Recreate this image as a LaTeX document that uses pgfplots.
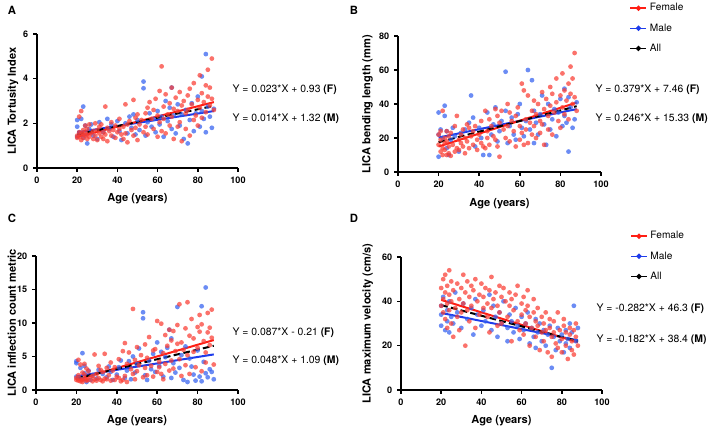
\documentclass[border=0pt]{standalone}
\usepackage{pgfplots}
\pgfplotsset{compat=1.18}
\usepackage{pgfplotstable}
\usepackage{fontspec}
\setmainfont{TeX Gyre Heros}

\definecolor{fred}{RGB}{250,60,50}
\definecolor{mblue}{RGB}{50,95,240}
\definecolor{lred}{RGB}{255,30,20}
\definecolor{lblue}{RGB}{30,60,235}

% age, tortuosity, bending length, inflection count, max velocity
\pgfplotstableread{
age tort bend infl vel
20 1.45 16 1.5 46
20 1.35 22 1.8 38
21 1.60 12 2.2 50
21 1.40 19 1.4 41
21 2.30 24 4.5 35
22 1.55 14 1.6 44
22 2.55 36 3.8 52
22 1.25 10 1.3 32
23 1.70 20 2.6 47
23 1.50 17 1.5 39
23 1.35 13 1.2 28
24 1.90 24 3.9 54
24 1.45 10 1.7 43
24 1.60 18 2.3 36
25 1.30 11 1.4 49
25 1.75 21 3.2 30
25 1.50 15 1.6 40
26 1.40 9.5 1.5 45
26 1.95 23 2.8 24
27 1.55 16 1.9 37
28 1.65 27 2.1 48
28 1.30 12 1.3 33
29 2.00 33 5.3 41
29 1.45 14 1.6 27
30 1.70 19 2.4 46
30 1.25 13 1.4 35
31 1.85 22 3.6 52
31 1.55 17 1.8 39
32 1.40 25 1.5 44
32 1.95 15 3.0 20
33 1.60 20 2.7 49
33 1.30 11 1.3 36
34 2.75 28 5.4 42
34 1.50 18 1.7 31
35 1.80 26 3.3 47
35 1.20 14 1.6 38
36 1.65 21 2.2 45
37 1.45 16 1.4 28
37 2.05 24 4.1 50
38 1.70 27 2.9 40
39 1.35 13 1.5 34
39 1.90 19 3.4 43
40 1.60 22 2.0 48
41 1.75 30 1.8 37
41 2.20 17 4.6 42
42 1.50 15 1.3 46
43 1.85 36 5.8 33
43 1.30 14 1.5 39
44 2.85 24 7.0 45
44 1.55 20 2.1 26
45 1.95 31 3.9 51
45 1.15 16 1.2 37
46 2.10 27 5.6 41
47 1.70 21 3.1 44
48 3.05 37 12.1 29
48 1.45 19 2.4 38
49 2.25 33 4.5 47
49 1.80 15 1.6 35
50 1.25 9 2.8 42
50 2.40 29 6.4 30
51 1.95 36 3.7 46
52 2.15 25 5.2 40
53 1.60 20 1.9 33
54 2.45 40 6.8 44
54 1.85 27 3.3 38
55 2.70 35 4.8 22
55 1.50 18 2.2 41
56 2.95 30 7.9 36
57 2.20 24 3.6 43
58 1.75 15 2.0 31
58 2.60 33 5.9 47
59 3.10 38 6.1 27
60 2.35 27 10.3 39
60 1.40 19 2.7 34
61 3.45 52 4.2 42
61 2.05 23 3.4 25
62 4.55 48 9.9 36
62 1.65 16 2.4 30
63 2.75 31 5.5 38
63 2.20 25 1.6 45
64 3.30 45 8.2 33
64 1.55 17 3.9 20
65 2.40 29 6.6 28
66 2.90 36 9.0 35
66 1.90 22 2.9 41
67 3.60 42 7.4 31
67 2.30 27 4.4 24
68 2.65 34 8.8 37
68 1.30 20 3.2 29
69 3.15 40 5.8 18
70 2.55 30 9.7 33
70 1.85 23 6.9 26
71 3.40 47 12.8 30
71 2.05 28 4.6 22
72 2.80 37 7.1 35
72 1.20 16 2.1 27
73 3.00 43 6.0 17
74 2.45 25 9.2 32
74 1.75 33 3.7 28
75 3.25 50 13.1 15
75 2.60 39 5.2 24
76 1.45 22 2.4 31
76 3.55 46 8.1 26
77 2.85 35 10.6 21
78 2.15 41 5.7 35
78 3.80 55 7.7 19
79 2.35 30 3.4 27
80 3.05 45 9.4 23
80 1.90 26 6.3 17
81 2.70 38 8.7 29
81 4.15 58 11.2 32
82 3.35 48 9.8 20
82 2.25 34 2.8 26
83 2.95 42 7.3 14
84 3.70 52 5.6 25
84 2.50 31 4.1 28
85 3.20 46 8.6 18
85 4.40 62 11.5 22
86 2.80 40 6.7 27
86 3.60 55 9.3 16
87 4.90 70 12.0 24
87 3.10 44 7.8 30
88 2.60 36 3.8 20
}\female

\pgfplotstableread{
age tort bend infl vel
20 2.15 35 4.3 34
20 1.85 9 4.0 29
20 1.40 22 2.0 38
21 1.60 25 1.8 42
22 2.20 20 3.3 27
23 2.75 39 5.5 36
23 1.35 33 1.6 31
24 1.90 14 3.6 26
24 1.50 24 2.5 40
25 1.10 10 1.2 33
26 1.75 19 2.9 30
27 1.95 26 1.5 44
28 1.45 21 2.2 35
30 1.30 12 1.7 28
31 2.05 23 3.0 39
33 1.60 25 2.4 32
35 2.20 29 1.9 37
36 1.75 45 3.5 25
37 1.95 32 2.7 41
38 1.40 15 1.5 34
40 2.10 26 2.3 29
41 1.65 20 3.4 36
42 1.25 10 4.4 31
44 2.00 35 1.8 43
45 1.55 10 2.9 27
46 2.30 22 4.3 38
47 1.80 28 1.6 33
48 2.40 38 5.0 24
49 1.50 18 2.6 35
50 2.15 24 3.9 30
51 1.70 30 6.2 40
53 3.87 59 11.6 22
53 3.57 36 10.7 28
54 1.45 17 2.2 34
55 2.05 27 1.5 31
56 2.45 32 4.4 26
57 1.85 22 3.1 37
58 2.20 19 5.4 29
59 1.60 34 2.7 23
60 2.55 40 7.1 33
61 1.95 26 3.6 27
62 2.30 21 5.7 30
63 1.40 30 2.0 35
64 3.00 60 4.9 21
65 2.10 25 6.3 28
66 2.70 54 9.0 24
67 3.60 36 7.7 32
67 1.75 17 1.8 19
68 2.35 29 4.0 26
69 1.55 22 2.6 30
70 2.85 34 12.4 22
71 1.90 45 3.3 27
72 2.40 28 5.2 20
73 1.30 16 1.5 25
74 2.60 40 6.5 29
75 1.10 25 1.2 10
76 2.15 31 4.7 24
77 2.90 37 3.5 18
78 1.65 21 2.3 28
79 2.45 35 1.4 22
80 3.20 43 5.9 25
81 1.85 27 2.0 17
82 4.10 49 12.5 21
82 2.55 33 1.3 27
83 2.20 29 4.2 23
84 5.10 44 15.3 30
84 1.60 12 2.5 19
85 2.75 38 1.9 26
86 2.30 26 3.1 38
87 1.80 31 2.7 22
88 2.65 41 1.6 28
}\male

\tikzset{eq/.style={anchor=west, font=\fontsize{7.8}{9}\selectfont}}

\pgfplotsset{
 prism/.style={
  scale only axis, xmin=0, xmax=100, ymin=0,
  xtick={0,20,...,100},
  axis lines=left, axis line style={-, line width=1.1pt},
  tick align=outside, major tick length=3pt,
  tick style={line width=1.1pt, black},
  /pgf/number format/assume math mode=true,
  tick label style={font=\bfseries\fontsize{6.8}{8}\selectfont},
  label style={font=\bfseries\fontsize{8.3}{9}\selectfont},
  xlabel={Age (years)},
  xlabel style={at={(rel axis cs:0.5,-0.23)}, anchor=center},
  clip=false,
  anchor=south west,
 },
 fem/.style={only marks, mark=*, mark size=1.8pt, color=fred, mark options={solid, fill=fred, draw=fred, fill opacity=0.72, draw opacity=0}, forget plot},
 mal/.style={only marks, mark=*, mark size=1.8pt, color=mblue, mark options={solid, fill=mblue, draw=mblue, fill opacity=0.72, draw opacity=0}, forget plot},
 rl/.style={lred, line width=1.5pt, forget plot},
 bl/.style={lblue, line width=1.5pt, forget plot},
 al/.style={black, line width=1.5pt, dash pattern=on 5pt off 2.5pt, forget plot},
 leg/.style={
  legend style={draw=none, fill=none, font=\fontsize{7.6}{9}\selectfont, anchor=north west, row sep=4pt, inner sep=0pt},
  legend cell align=left,
  legend image code/.code={\draw[##1] (0pt,0pt) -- (12pt,0pt); \fill[##1, solid] (6pt,0pt) circle (1.3pt);},
 },
}

\begin{document}
\begin{tikzpicture}
\useasboundingbox (0,0) rectangle (531pt,321pt);

\node[font=\bfseries\fontsize{8.5}{9}\selectfont] at (9pt,313.5pt) {A};
\node[font=\bfseries\fontsize{8.5}{9}\selectfont] at (265.5pt,313.5pt) {B};
\node[font=\bfseries\fontsize{8.5}{9}\selectfont] at (9pt,157.5pt) {C};
\node[font=\bfseries\fontsize{8.5}{9}\selectfont] at (265.5pt,157.5pt) {D};

% Panel A
\begin{axis}[prism, at={(27.75pt,195pt)}, width=150.75pt, height=100.5pt,
  ymax=6, ytick={0,2,4,6}, ylabel={LICA Tortusity Index},
  ylabel style={at={(rel axis cs:-0.12,0.5)}, anchor=center}]
\addplot[mal] table[x=age,y=tort]{\male};
\addplot[fem] table[x=age,y=tort]{\female};
\addplot[bl] coordinates {(20,1.60) (88,2.55)};
\addplot[rl] coordinates {(20,1.39) (88,2.95)};
\addplot[al] coordinates {(20,1.50) (88,2.78)};
\node[eq] at (rel axis cs:0.95,0.587) {Y = 0.023*X + 0.93 \textbf{(F)}};
\node[eq] at (rel axis cs:0.95,0.371) {Y = 0.014*X + 1.32 \textbf{(M)}};
\end{axis}

% Panel B
\begin{axis}[prism, leg, at={(298.5pt,192pt)}, width=152.25pt, height=102pt,
  ymax=80, ytick={0,20,...,80}, ylabel={LICA bending length (mm)},
  ylabel style={at={(rel axis cs:-0.15,0.5)}, anchor=center},
  legend style={at={(rel axis cs:1.14,1.26)}}]
\addlegendimage{lred, line width=1.2pt}\addlegendentry{Female}
\addlegendimage{lblue, line width=1.2pt}\addlegendentry{Male}
\addlegendimage{black, line width=1.2pt}\addlegendentry{All}
\addplot[mal] table[x=age,y=bend]{\male};
\addplot[fem] table[x=age,y=bend]{\female};
\addplot[bl] coordinates {(20,20.25) (88,37.0)};
\addplot[rl] coordinates {(20,15.0) (88,40.8)};
\addplot[al] coordinates {(20,17.5) (88,38.7)};
\node[eq] at (rel axis cs:0.95,0.603) {Y = 0.379*X + 7.46 \textbf{(F)}};
\node[eq] at (rel axis cs:0.95,0.39) {Y = 0.246*X + 15.33 \textbf{(M)}};
\end{axis}

% Panel C
\begin{axis}[prism, at={(27pt,28.5pt)}, width=151.5pt, height=100.5pt,
  ymax=20, ytick={0,5,...,20}, ylabel={LICA inflection count metric},
  ylabel style={at={(rel axis cs:-0.12,0.5)}, anchor=center}]
\addplot[mal] table[x=age,y=infl]{\male};
\addplot[fem] table[x=age,y=infl]{\female};
\addplot[bl] coordinates {(20,2.05) (88,5.31)};
\addplot[rl] coordinates {(20,1.53) (88,7.45)};
\addplot[al] coordinates {(20,1.72) (88,6.6)};
\node[eq] at (rel axis cs:0.95,0.425) {Y = 0.087*X - 0.21 \textbf{(F)}};
\node[eq] at (rel axis cs:0.95,0.216) {Y = 0.048*X + 1.09 \textbf{(M)}};
\end{axis}

% Panel D
\begin{axis}[prism, leg, at={(300.75pt,28.5pt)}, width=150.75pt, height=99.75pt,
  ymax=60, ytick={0,20,40,60}, ylabel={LICA maximum velocity (cm/s)},
  ylabel style={at={(rel axis cs:-0.165,0.5)}, anchor=center},
  legend style={at={(rel axis cs:1.139,1.213)}}]
\addlegendimage{lred, line width=1.2pt}\addlegendentry{Female}
\addlegendimage{lblue, line width=1.2pt}\addlegendentry{Male}
\addlegendimage{black, line width=1.2pt}\addlegendentry{All}
\addplot[mal] table[x=age,y=vel]{\male};
\addplot[fem] table[x=age,y=vel]{\female};
\addplot[bl] coordinates {(20,34.76) (88,22.4)};
\addplot[rl] coordinates {(20,40.66) (88,21.5)};
\addplot[al] coordinates {(20,38.3) (88,22.0)};
\node[eq] at (rel axis cs:0.95,0.609) {Y = -0.282*X + 46.3 \textbf{(F)}};
\node[eq] at (rel axis cs:0.95,0.376) {Y = -0.182*X + 38.4 \textbf{(M)}};
\end{axis}
\end{tikzpicture}
\end{document}
